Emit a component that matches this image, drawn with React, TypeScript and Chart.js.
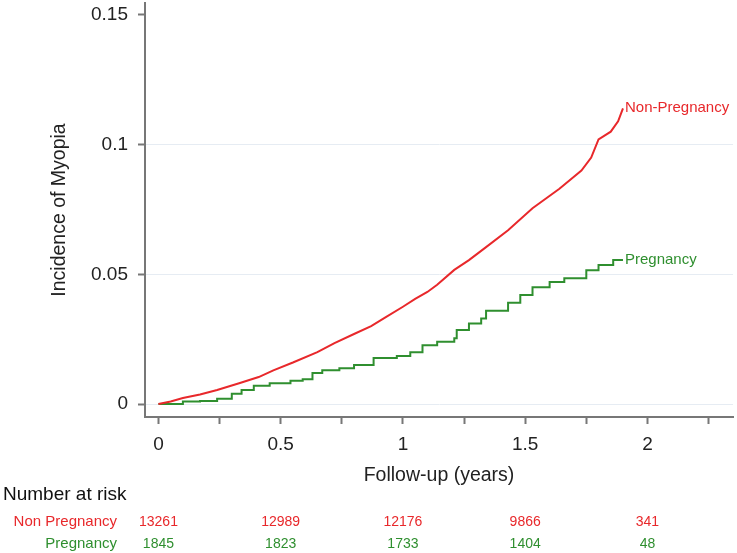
import React, { useEffect, useRef } from 'react';
import { Chart, registerables } from 'chart.js';

Chart.register(...registerables);

// ---- data ----
const nonPregX = [0, 0.05, 0.1, 0.17, 0.24, 0.33, 0.41, 0.47, 0.55, 0.65, 0.72, 0.8, 0.87, 0.93, 1.0, 1.05, 1.1, 1.14, 1.21, 1.27, 1.34, 1.43, 1.53, 1.64, 1.73, 1.77, 1.8, 1.85, 1.88, 1.9];
const nonPregY = [0, 0.001, 0.0023, 0.0037, 0.0054, 0.008, 0.0104, 0.013, 0.016, 0.02, 0.0235, 0.027, 0.03, 0.0335, 0.0375, 0.0405, 0.0432, 0.046, 0.0517, 0.0555, 0.0605, 0.067, 0.0755, 0.083, 0.09, 0.095, 0.102, 0.105, 0.109, 0.114];
const pregX = [0, 0.1, 0.17, 0.24, 0.3, 0.34, 0.39, 0.455, 0.54, 0.59, 0.63, 0.67, 0.74, 0.8, 0.88, 0.975, 1.03, 1.08, 1.14, 1.21, 1.22, 1.27, 1.32, 1.34, 1.43, 1.48, 1.53, 1.6, 1.66, 1.75, 1.8, 1.86, 1.9];
const pregY = [0, 0.001, 0.0012, 0.002, 0.004, 0.0054, 0.007, 0.008, 0.009, 0.0096, 0.012, 0.013, 0.0138, 0.015, 0.0177, 0.0185, 0.02, 0.0227, 0.024, 0.0254, 0.0285, 0.031, 0.033, 0.036, 0.039, 0.042, 0.045, 0.047, 0.0485, 0.0516, 0.0536, 0.0555, 0.0555];

const seriesNames = ['Non-Pregnancy', 'Pregnancy'];
const riskRowNames = ['Non Pregnancy', 'Pregnancy'];
const riskTimes = [0, 0.5, 1, 1.5, 2];
const riskNonPreg = ['13261', '12989', '12176', '9866', '341'];
const riskPreg = ['1845', '1823', '1733', '1404', '48'];

const yTicks = [0, 0.05, 0.1, 0.15];
const yTickLabels = ['0', '0.05', '0.1', '0.15'];
const xTicks = [0, 0.25, 0.5, 0.75, 1, 1.25, 1.5, 1.75, 2, 2.25];
const xLabelValues = [0, 0.5, 1, 1.5, 2];
const xLabelTexts = ['0', '0.5', '1', '1.5', '2'];

const RED = '#e8282b';
const GREEN = '#2f8f2f';
const AXIS = '#777777';
const FONT = '"Liberation Sans", Arial, Helvetica, sans-serif';

const annotatePlugin = {
  id: 'annotate',
  afterDraw(chart: any) {
    const ctx = chart.ctx;
    const xs = chart.scales.x;
    const ys = chart.scales.y;
    ctx.save();
    // end-of-curve labels
    ctx.font = `15px ${FONT}`;
    ctx.textAlign = 'left';
    ctx.textBaseline = 'middle';
    ctx.fillStyle = RED;
    ctx.fillText(seriesNames[0], xs.getPixelForValue(nonPregX[nonPregX.length - 1]) + 2, ys.getPixelForValue(nonPregY[nonPregY.length - 1]));
    ctx.fillStyle = GREEN;
    ctx.fillText(seriesNames[1], xs.getPixelForValue(pregX[pregX.length - 1]) + 2, ys.getPixelForValue(pregY[pregY.length - 1]));

    // number at risk table
    ctx.fillStyle = '#111111';
    ctx.font = `19px ${FONT}`;
    ctx.textAlign = 'left';
    ctx.fillText('Number at risk', 3, 495);

    const rows = [
      { name: riskRowNames[0], vals: riskNonPreg, color: RED, y: 522 },
      { name: riskRowNames[1], vals: riskPreg, color: GREEN, y: 544 },
    ];
    rows.forEach((r) => {
      ctx.fillStyle = r.color;
      ctx.font = `15px ${FONT}`;
      ctx.textAlign = 'right';
      ctx.fillText(r.name, 117, r.y);
      ctx.font = `14px ${FONT}`;
      ctx.textAlign = 'center';
      r.vals.forEach((v, i) => {
        ctx.fillText(v, xs.getPixelForValue(riskTimes[i]), r.y);
      });
    });
    ctx.restore();
  },
};

export default function App() {
  const ref = useRef<HTMLCanvasElement | null>(null);

  useEffect(() => {
    if (!ref.current) return;
    Chart.defaults.font.family = FONT;
    const chart = new Chart(ref.current, {
      type: 'line',
      data: {
        datasets: [
          {
            label: seriesNames[0],
            data: nonPregX.map((x, i) => ({ x, y: nonPregY[i] })),
            borderColor: RED,
            borderWidth: 2,
            pointRadius: 0,
            tension: 0,
            fill: false,
          },
          {
            label: seriesNames[1],
            data: pregX.map((x, i) => ({ x, y: pregY[i] })),
            borderColor: GREEN,
            borderWidth: 2,
            pointRadius: 0,
            stepped: true,
            fill: false,
          },
        ],
      },
      options: {
        animation: false,
        responsive: false,
        maintainAspectRatio: false,
        devicePixelRatio: 1,
        layout: { padding: { top: 3, right: 4, left: 0, bottom: 0 } },
        plugins: { legend: { display: false }, tooltip: { enabled: false } },
        scales: {
          x: {
            type: 'linear',
            min: -0.055,
            max: 2.35,
            afterBuildTicks: (s: any) => {
              s.ticks = xTicks.map((v) => ({ value: v }));
            },
            afterFit: (s: any) => {
              s.height = 136;
              s.paddingLeft = 0;
              s.paddingRight = 0;
            },
            ticks: {
              autoSkip: false,
              maxRotation: 0,
              padding: 9,
              color: '#222222',
              font: { size: 19 },
              callback: (v: any) => {
                const idx = xLabelValues.findIndex((t) => Math.abs(t - Number(v)) < 1e-9);
                return idx >= 0 ? xLabelTexts[idx] : '';
              },
            },
            grid: {
              drawOnChartArea: false,
              drawTicks: true,
              tickLength: 7,
              tickColor: AXIS,
              tickWidth: 2,
            },
            border: { display: true, color: AXIS, width: 2 },
            title: {
              display: true,
              text: 'Follow-up (years)',
              color: '#222222',
              font: { size: 19.5 },
              padding: { top: 0, bottom: 66 },
            },
          },
          y: {
            type: 'linear',
            min: -0.005,
            max: 0.1546,
            afterBuildTicks: (s: any) => {
              s.ticks = yTicks.map((v) => ({ value: v }));
            },
            afterFit: (s: any) => {
              s.width = 145;
              s.paddingTop = 0;
              s.paddingBottom = 0;
            },
            ticks: {
              padding: 10,
              color: '#222222',
              font: { size: 19 },
              callback: (v: any) => {
                const idx = yTicks.findIndex((t) => Math.abs(t - Number(v)) < 1e-9);
                return idx >= 0 ? yTickLabels[idx] : '';
              },
            },
            grid: {
              drawTicks: true,
              tickLength: 7,
              tickColor: AXIS,
              tickWidth: 2,
              lineWidth: 1,
              color: (c: any) => (c.tick && Math.abs(c.tick.value - 0.15) < 1e-9 ? 'rgba(0,0,0,0)' : '#e6ecf3'),
            },
            border: { display: true, color: AXIS, width: 2 },
            title: {
              display: true,
              text: 'Incidence of Myopia',
              color: '#222222',
              font: { size: 19.5 },
              padding: { top: 48, bottom: 0 },
            },
          },
        },
      },
      plugins: [annotatePlugin],
    } as any);
    return () => chart.destroy();
  }, []);

  return (
    <div style={{ position: 'absolute', left: 0, top: 0, width: 737, height: 553, background: '#ffffff' }}>
      <canvas ref={ref} width={737} height={553} />
    </div>
  );
}
